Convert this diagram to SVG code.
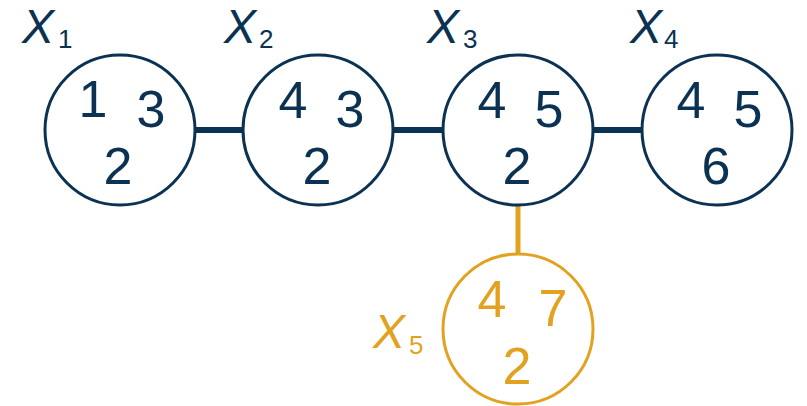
<svg xmlns="http://www.w3.org/2000/svg" width="807" height="406" viewBox="0 0 807 406">
<style>
.n{fill:#ffffff;stroke:#0b3252;stroke-width:3}
.o{fill:#ffffff;stroke:#e2a21f;stroke-width:3}
.d{font-family:"Liberation Sans","DejaVu Sans",sans-serif;font-size:52px;fill:#0b3252;text-anchor:middle}
.do{font-family:"Liberation Sans","DejaVu Sans",sans-serif;font-size:52px;fill:#e2a21f;text-anchor:middle}
.lx{font-family:"Liberation Sans","DejaVu Sans",sans-serif;font-size:48px;font-style:italic;fill:#0b3252}
.ls{font-family:"Liberation Sans","DejaVu Sans",sans-serif;font-size:26px;fill:#0b3252}
.lxo{font-family:"Liberation Sans","DejaVu Sans",sans-serif;font-size:48px;font-style:italic;fill:#e2a21f}
.lso{font-family:"Liberation Sans","DejaVu Sans",sans-serif;font-size:26px;fill:#e2a21f}
</style>
<g id="connectors">
<line x1="195" y1="130" x2="243" y2="130" stroke="#0b3252" stroke-width="6"/>
<line x1="393" y1="130" x2="443" y2="130" stroke="#0b3252" stroke-width="6"/>
<line x1="593" y1="130" x2="642" y2="130" stroke="#0b3252" stroke-width="6"/>
<line x1="518" y1="205" x2="518" y2="254" stroke="#e2a21f" stroke-width="5"/>
</g>
<g id="X1">
<circle class="n" cx="120" cy="130" r="75"/>
<text class="lx" x="22" y="43">X</text><text class="ls" x="58" y="48">1</text>
<text class="d" x="93" y="117">1</text>
<text class="d" x="151" y="127">3</text>
<text class="d" x="118" y="184">2</text>
</g>
<g id="X2">
<circle class="n" cx="318" cy="130" r="75"/>
<text class="lx" x="224" y="43">X</text><text class="ls" x="259" y="48">2</text>
<text class="d" x="293" y="118">4</text>
<text class="d" x="350" y="127">3</text>
<text class="d" x="317" y="184">2</text>
</g>
<g id="X3">
<circle class="n" cx="518" cy="130" r="75"/>
<text class="lx" x="427" y="43">X</text><text class="ls" x="463" y="48">3</text>
<text class="d" x="492" y="118">4</text>
<text class="d" x="549" y="127">5</text>
<text class="d" x="517" y="184">2</text>
</g>
<g id="X4">
<circle class="n" cx="717" cy="130" r="75"/>
<text class="lx" x="630" y="43">X</text><text class="ls" x="664" y="48">4</text>
<text class="d" x="691" y="118">4</text>
<text class="d" x="748" y="127">5</text>
<text class="d" x="716" y="184">6</text>
</g>
<g id="X5">
<circle class="o" cx="518" cy="329" r="75"/>
<text class="lxo" x="373" y="348">X</text><text class="lso" x="409" y="354">5</text>
<text class="do" x="492" y="317">4</text>
<text class="do" x="553" y="326">7</text>
<text class="do" x="517" y="384">2</text>
</g>
</svg>
